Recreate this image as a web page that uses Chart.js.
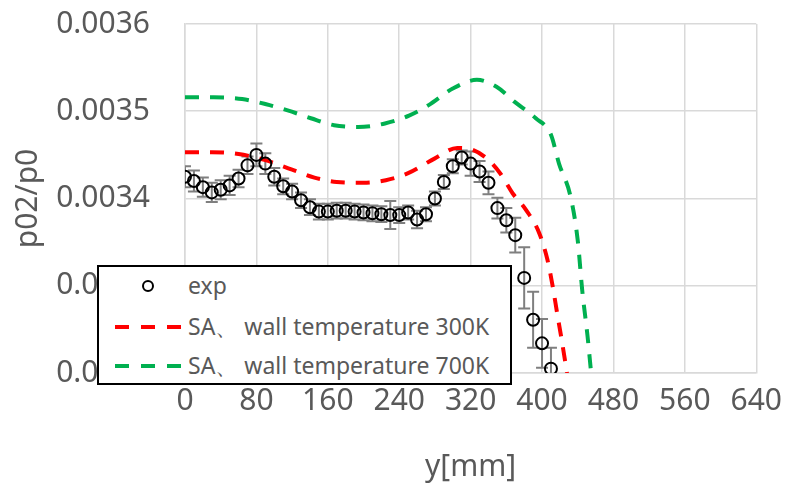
<!DOCTYPE html>
<html>
<head>
<meta charset="UTF-8">
<title>p02/p0</title>
<style>
    body { margin: 0; background: #fff; }
    #wrap { position: relative; width: 792px; height: 488px; }
    #legend {
        position: absolute;
        left: 97px;
        top: 265px;
        width: 411px;
        height: 116px;
        border: 2px solid #000;
        background: #fff;
        font-family: "Noto Sans", sans-serif;
        font-size: 23px;
        color: #595959;
    }
    .row { position: absolute; left: 0; height: 30px; line-height: 30px; }
    .row svg { position: absolute; left: 16px; top: 10px; }
    .row span { position: absolute; left: 89px; white-space: nowrap; }
</style>
<script src="https://cdn.jsdelivr.net/npm/chart.js"></script>
</head>
<body>
<div id="wrap">
    <canvas id="chart" width="792" height="488"></canvas>
    <div id="legend">
        <div class="row" style="top:3px">
            <svg width="70" height="12"><circle cx="33" cy="6" r="5" fill="none" stroke="#000" stroke-width="2"/></svg>
            <span>exp</span>
        </div>
        <div class="row" style="top:44px">
            <svg width="70" height="12"><line x1="0" y1="6" x2="68" y2="6" stroke="#ff0000" stroke-width="4" stroke-dasharray="14 12"/></svg>
            <span>SA、 wall temperature 300K</span>
        </div>
        <div class="row" style="top:83px">
            <svg width="70" height="12"><line x1="0" y1="6" x2="68" y2="6" stroke="#00b050" stroke-width="4" stroke-dasharray="14 12"/></svg>
            <span>SA、 wall temperature 700K</span>
        </div>
    </div>
</div>
<script>
    // measured points
    const expX = [0, 10, 20, 30, 40, 50, 60, 70, 80, 90, 100, 110, 120, 130, 140, 150, 160, 170, 180, 190,
        200, 210, 220, 230, 240, 250, 260, 270, 280, 290, 300, 310, 320, 330, 340, 350, 360, 370, 380, 390, 400, 410];
    const expY = [0.003425, 0.003420, 0.003413, 0.003407, 0.003410, 0.003415, 0.003423, 0.003438, 0.003450, 0.003440,
        0.003425, 0.003414, 0.003408, 0.003398, 0.003390, 0.003385, 0.003385, 0.003386, 0.003386, 0.003385,
        0.003384, 0.003383, 0.003382, 0.003381, 0.003381, 0.003384, 0.003376, 0.003382, 0.003400, 0.003419,
        0.003437, 0.003447, 0.003440, 0.003431, 0.003418, 0.003389, 0.003375, 0.003358, 0.003309, 0.003261,
        0.003234, 0.003205];
    const expErr = [0.000012, 0.000012, 0.000011, 0.000011, 0.000011, 0.000011, 0.000010, 0.000010, 0.000013, 0.000012,
        0.000010, 0.000009, 0.000009, 0.000009, 0.000009, 0.000009, 0.000009, 0.000009, 0.000009, 0.000009,
        0.000009, 0.000009, 0.000009, 0.000016, 0.000009, 0.000008, 0.000010, 0.000008, 0.000008, 0.000008,
        0.000008, 0.000008, 0.000014, 0.000012, 0.000013, 0.000012, 0.000014, 0.000020, 0.000035, 0.000032,
        0.000028, 0.000024];

    // SA, wall 300K
    const redX = [0, 30, 60, 90, 120, 145, 170, 200, 225, 250, 280, 305, 322, 338, 353, 367, 382, 397, 406, 412, 417, 422, 428];
    const redY = [0.003453, 0.003453, 0.003451, 0.003444, 0.003433, 0.003424, 0.003419, 0.003418, 0.003421, 0.003429,
        0.003446, 0.003458, 0.003456, 0.003446, 0.003429, 0.003406, 0.003387, 0.003360, 0.003330, 0.003299,
        0.003268, 0.003238, 0.003200];

    // SA, wall 700K
    const greenX = [0, 32, 64, 91, 115, 141, 167, 194, 224, 251, 273, 300, 327, 349, 369, 393, 410, 419, 432, 440, 445, 451, 455];
    const greenY = [0.003516, 0.003516, 0.003514, 0.003508, 0.003501, 0.003492, 0.003484, 0.003482, 0.003486, 0.003495,
        0.003507, 0.003526, 0.003536, 0.003528, 0.003511, 0.003492, 0.003473, 0.003440, 0.003402, 0.003352,
        0.003295, 0.003242, 0.003200];

    const xTicks = [0, 80, 160, 240, 320, 400, 480, 560, 640];
    const yTicks = [0.0032, 0.0033, 0.0034, 0.0035, 0.0036];

    const pts = (xs, ys) => xs.map((x, i) => ({ x: x, y: ys[i] }));

    const gray = '#595959';
    const gridColor = '#d9d9d9';
    const axisFont = { family: 'Noto Sans', size: 30 };

    // error bars, drawn through the scales
    const errorBars = {
        id: 'errorBars',
        beforeDatasetsDraw(chart) {
            const { ctx, chartArea, scales } = chart;
            ctx.save();
            ctx.beginPath();
            ctx.rect(chartArea.left, chartArea.top, chartArea.right - chartArea.left, chartArea.bottom - chartArea.top);
            ctx.clip();
            ctx.strokeStyle = '#7f7f7f';
            ctx.lineWidth = 2;
            expX.forEach((x, i) => {
                const px = scales.x.getPixelForValue(x);
                const top = scales.y.getPixelForValue(expY[i] + expErr[i]);
                const bot = scales.y.getPixelForValue(expY[i] - expErr[i]);
                ctx.beginPath();
                ctx.moveTo(px, top); ctx.lineTo(px, bot);
                ctx.moveTo(px - 6, top); ctx.lineTo(px + 6, top);
                ctx.moveTo(px - 6, bot); ctx.lineTo(px + 6, bot);
                ctx.stroke();
            });
            ctx.restore();
        }
    };

    new Chart(document.getElementById('chart'), {
        type: 'scatter',
        data: {
            datasets: [
                {
                    label: 'exp',
                    data: pts(expX, expY),
                    pointRadius: 6,
                    pointBorderWidth: 2,
                    pointBorderColor: '#000',
                    pointBackgroundColor: 'rgba(0,0,0,0)',
                    showLine: false
                },
                {
                    label: 'SA、 wall temperature 300K',
                    data: pts(redX, redY),
                    showLine: true,
                    borderColor: '#ff0000',
                    borderWidth: 4,
                    borderDash: [14, 11],
                    pointRadius: 0,
                    cubicInterpolationMode: 'monotone'
                },
                {
                    label: 'SA、 wall temperature 700K',
                    data: pts(greenX, greenY),
                    showLine: true,
                    borderColor: '#00b050',
                    borderWidth: 4,
                    borderDash: [14, 11],
                    pointRadius: 0,
                    cubicInterpolationMode: 'monotone'
                }
            ]
        },
        options: {
            responsive: false,
            animation: false,
            devicePixelRatio: 1,
            layout: { padding: { top: 24, right: 30, left: 0, bottom: 0 } },
            plugins: {
                legend: { display: false },
                tooltip: { enabled: false }
            },
            scales: {
                x: {
                    type: 'linear',
                    min: 0,
                    max: 640,
                    afterBuildTicks: s => { s.ticks = xTicks.map(v => ({ value: v })); },
                    afterFit: s => { s.height = 115; },
                    ticks: { font: axisFont, color: gray, padding: 10 },
                    grid: { color: gridColor, lineWidth: 1.5, drawTicks: false },
                    border: { color: gridColor, width: 1.5 },
                    title: { display: true, text: 'y[mm]', font: axisFont, color: gray, padding: { top: 0, bottom: 3 } }
                },
                y: {
                    min: 0.0032,
                    max: 0.0036,
                    afterBuildTicks: s => { s.ticks = yTicks.map(v => ({ value: v })); },
                    afterFit: s => { s.width = 185; },
                    ticks: { font: axisFont, color: gray, padding: 0, callback: v => v.toFixed(4) },
                    grid: { color: gridColor, lineWidth: 1.5, drawTicks: true, tickLength: 35, tickColor: 'rgba(0,0,0,0)' },
                    border: { color: gridColor, width: 1.5 },
                    title: { display: true, text: 'p02/p0', font: axisFont, color: gray, padding: { top: 10, bottom: 0 } }
                }
            }
        },
        plugins: [errorBars]
    });
</script>
</body>
</html>
